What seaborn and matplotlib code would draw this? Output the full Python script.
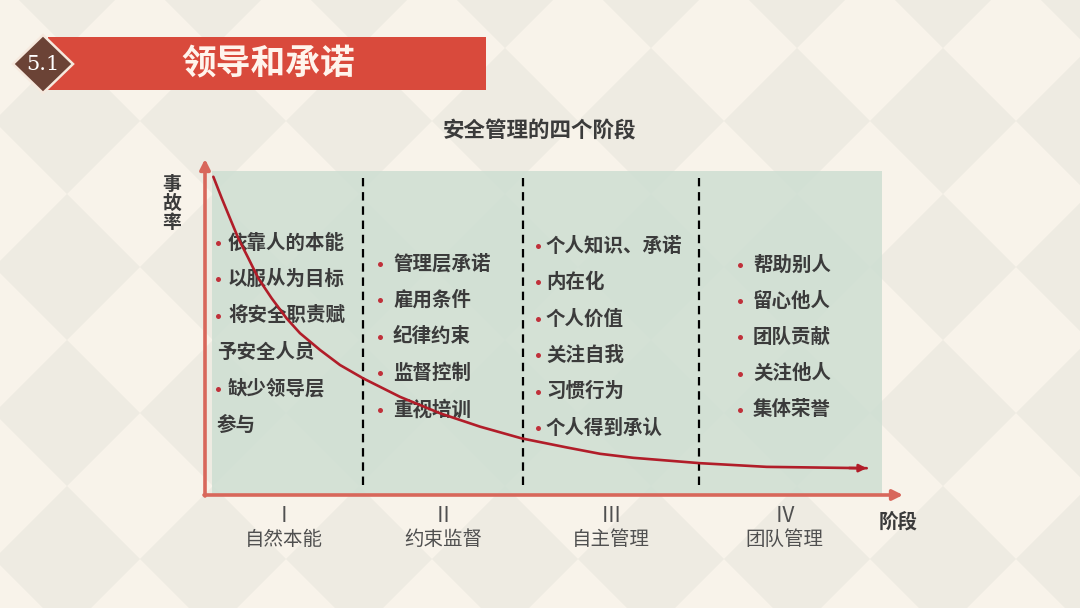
import matplotlib
matplotlib.use("Agg")
import matplotlib.pyplot as plt
from matplotlib.patches import Polygon, Rectangle
import seaborn as sns
import pandas as pd

sns.set_theme(style="white")
plt.rcParams['font.family'] = ['Noto Sans CJK SC', 'DejaVu Sans']

# ---------------- data ----------------
page_no = "5.1"
page_title = "领导和承诺"
chart_title = "安全管理的四个阶段"
y_label = "事故率"
x_label = "阶段"
stage_numerals = ["Ⅰ", "Ⅱ", "Ⅲ", "Ⅳ"]
stage_names = ["自然本能", "约束监督", "自主管理", "团队管理"]
stage_bounds = [22.6, 45.4, 70.6]          # stage borders on the x scale (0-100)
stage_end = 95.0
stage1_items = [("•", "依靠人的本能"), ("•", "以服从为目标"), ("•", "将安全职责赋"),
                ("", "予安全人员"), ("•", "缺少领导层"), ("", "参与")]
stage2_items = [("•", "管理层承诺"), ("•", "雇用条件"), ("•", "纪律约束"),
                ("•", "监督控制"), ("•", "重视培训")]
stage3_items = [("•", "个人知识、承诺"), ("•", "内在化"), ("•", "个人价值"),
                ("•", "关注自我"), ("•", "习惯行为"), ("•", "个人得到承认")]
stage4_items = [("•", "帮助别人"), ("•", "留心他人"), ("•", "团队贡献"),
                ("•", "关注他人"), ("•", "集体荣誉")]
# accident-rate curve (x: stage progress 0-100, y: rate 0-100)
curve_x = [1.19, 2.39, 3.57, 4.76, 6.19, 7.61, 9.53, 11.67, 13.57, 16.43, 19.29,
           22.61, 27.86, 33.57, 39.29, 45.24, 51.67, 56.43, 61.19, 70.71, 80.24, 94.53]
curve_y = [95.0, 88.6, 82.6, 76.6, 70.7, 64.7, 58.7, 52.7, 48.3, 43.3, 38.8,
           34.8, 29.3, 24.4, 20.4, 16.9, 14.2, 12.3, 11.1, 9.5, 8.4, 8.0]

# ---------------- styles ----------------
BG_LIGHT = "#f8f3ea"
BG_DARK = "#eeebe2"
RED_BANNER = "#d94a3c"
BROWN = "#6b4336"
AXIS_RED = "#d8675b"
CURVE_RED = "#b11d29"
PANEL = "#cfdfd3"
TEXT_DARK = "#3b3b3b"
TEXT_GRAY = "#505050"
DOT_RED = "#c0303a"

W, H = 1080, 608
fig = plt.figure(figsize=(10.8, 6.08), dpi=100)
fig.patch.set_facecolor(BG_LIGHT)

# background (pixel coordinates)
bg = fig.add_axes([0, 0, 1, 1])
bg.set_xlim(0, W)
bg.set_ylim(H, 0)
bg.axis("off")
bg.set_facecolor(BG_LIGHT)

# diamond pattern
step = 146
half = 73
for i in range(-2, 10):
    for j in range(-2, 6):
        cx = 67 + step * i
        cy = 121 + step * j
        bg.add_patch(Polygon([(cx - half, cy), (cx, cy - half), (cx + half, cy), (cx, cy + half)],
                             closed=True, facecolor=BG_DARK, edgecolor="none", zorder=0))

# header banner
bg.add_patch(Rectangle((48, 37), 438, 53, facecolor=RED_BANNER, edgecolor="none", zorder=2))
bg.add_patch(Polygon([(13, 64), (43, 35), (73, 64), (43, 93)], closed=True,
                     facecolor=BROWN, edgecolor="#f6e9de", linewidth=1.8, zorder=3))
bg.text(43, 65, page_no, color="white", fontsize=15, family="DejaVu Serif",
        ha="center", va="center", zorder=4)
bg.text(268, 64, page_title, color="#fff4ec", fontsize=25, fontweight="bold",
        ha="center", va="center", zorder=4)

# chart title
bg.text(540, 131, chart_title, color=TEXT_DARK, fontsize=15.5, fontweight="bold",
        ha="center", va="center", zorder=4)

# green panel
bg.add_patch(Rectangle((212, 171), 670, 324, facecolor=PANEL, edgecolor="none",
                       alpha=0.88, zorder=1))

# axes arrows
bg.annotate("", xy=(205, 159), xytext=(205, 496),
            arrowprops=dict(arrowstyle="-|>", color=AXIS_RED, lw=2.6, mutation_scale=15,
                            shrinkA=0, shrinkB=0), zorder=5)
bg.annotate("", xy=(903, 495), xytext=(204, 495),
            arrowprops=dict(arrowstyle="-|>", color=AXIS_RED, lw=2.6, mutation_scale=15,
                            shrinkA=0, shrinkB=0), zorder=5)

bg.text(172, 203, "\n".join(y_label), color=TEXT_DARK, fontsize=13.5, fontweight="bold",
        ha="center", va="center", linespacing=1.0, zorder=4)
bg.text(898, 523, x_label, color=TEXT_DARK, fontsize=14, fontweight="bold",
        ha="center", va="center", zorder=4)

# chart axes: x 0-100 over px 205..905, y 0-100 over px 495..160
ax = fig.add_axes([205 / W, (H - 495) / H, 700 / W, 335 / H])
ax.set_xlim(0, 100)
ax.set_ylim(0, 100)
ax.axis("off")
ax.patch.set_visible(False)

# stage borders
for b in stage_bounds:
    ax.plot([b, b], [3.0, 94.6], color="black", lw=1.6, linestyle=(0, (3.8, 2.6)), zorder=3)

# curve
df = pd.DataFrame({"stage": curve_x, "rate": curve_y})
sns.lineplot(data=df, x="stage", y="rate", ax=ax, sort=False, color=CURVE_RED,
             lw=1.9, zorder=6, legend=False, solid_joinstyle="round", solid_capstyle="round")
ax.annotate("", xy=(curve_x[-1], curve_y[-1]), xytext=(curve_x[-1] - 2.5, curve_y[-1] + 0.05),
            arrowprops=dict(arrowstyle="-|>", color=CURVE_RED, lw=1.9, mutation_scale=11,
                            shrinkA=0, shrinkB=0), zorder=6)
ax.set_xlabel("")
ax.set_ylabel("")

# stage labels under axis
edges = [0.0] + stage_bounds + [stage_end]
for k in range(4):
    mid = (edges[k] + edges[k + 1]) / 2
    ax.text(mid, -6.3, stage_numerals[k], color=TEXT_GRAY, fontsize=15,
            ha="center", va="center", clip_on=False)
    ax.text(mid, -13.4, stage_names[k], color=TEXT_GRAY, fontsize=14,
            ha="center", va="center", clip_on=False)

# bullet lists (layout in px)
columns = [
    (stage1_items, 218, 228, 243, 36.4),
    (stage2_items, 380, 393, 264, 36.4),
    (stage3_items, 538, 546, 246, 36.4),
    (stage4_items, 740, 753, 265, 36.2),
]
for items, dot_x, text_x, y0, dy in columns:
    for n, (mark, label) in enumerate(items):
        y = y0 + n * dy
        if mark:
            bg.plot([dot_x], [y], marker="o", ms=3.6, color=DOT_RED, mec="none", zorder=4)
            bg.text(text_x, y, label, color=TEXT_DARK, fontsize=14, fontweight="bold",
                    ha="left", va="center", zorder=4)
        else:
            bg.text(dot_x - 1, y, label, color=TEXT_DARK, fontsize=14, fontweight="bold",
                    ha="left", va="center", zorder=4)

fig.savefig("out.png", dpi=100, facecolor=fig.get_facecolor())
